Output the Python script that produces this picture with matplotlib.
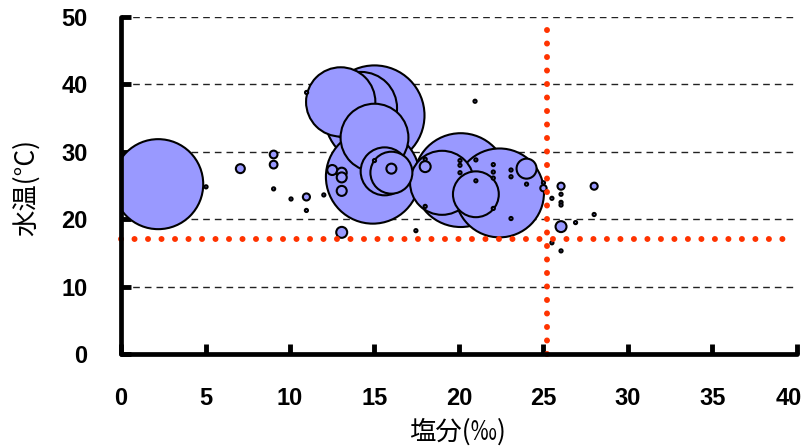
import numpy as np
import matplotlib.pyplot as plt
from matplotlib.transforms import ScaledTranslation

# 塩分・水温・バブルサイズ
salinity = [2.2, 15.0, 14.9, 20.1, 22.4, 14.2, 13.0, 15.0, 19.0, 15.6, 21.0, 16.0, 24.0,
            16.0, 12.5, 13.06, 13.06, 13.06, 13.06, 18.0, 7.06, 9.03, 9.03, 10.97,
            26.04, 28.0, 26.04, 25.0,
            5.03, 9.03, 10.06, 10.97, 10.98, 12.0, 15.0, 17.45, 18.0, 18.0, 20.06, 20.06,
            20.06, 21.0, 21.0, 20.95, 22.03, 22.03, 22.03, 22.03, 23.08, 23.08, 24.0,
            23.08, 25.0, 25.5, 26.04, 26.04, 26.04, 28.0, 26.9, 25.5, 26.04]
temperature = [25.2, 35.4, 26.3, 25.8, 23.9, 36.5, 37.4, 32.1, 25.4, 27.1, 23.7, 26.9, 27.5,
               27.5, 27.3, 26.9, 26.2, 24.2, 18.05, 27.8, 27.5, 29.6, 28.1, 23.3,
               24.9, 24.9, 18.9, 24.6,
               24.8, 24.5, 23.0, 21.3, 38.8, 23.6, 28.7, 18.3, 28.9, 21.9, 28.7, 28.0,
               26.9, 28.8, 25.7, 37.5, 28.1, 27.0, 26.1, 21.6, 27.3, 26.3, 25.2,
               20.1, 25.4, 23.1, 23.7, 22.5, 22.1, 20.7, 19.5, 16.5, 15.3]
bubble = [81, 100, 88, 88, 79, 52, 48, 46, 41, 23, 21, 17.6, 4,
          1, 1, 1, 1, 1, 1.2, 1.2, 0.8, 0.6, 0.6, 0.5,
          0.5, 0.5, 1.2, 0.4] + [0.1] * 33

# 基準線
ref_salinity = 25.2
ref_temperature = 17.1

x = np.array(salinity)
y = np.array(temperature)
sz = np.array(bubble)
order = np.argsort(-sz, kind="stable")  # 大きいバブルから描く

fig = plt.figure(figsize=(8.07, 4.47), dpi=100)
ax = fig.add_axes([0.15, 0.208, 0.8375, 0.754])

ax.set_xlim(0, 40)
ax.set_ylim(0, 50)

for gy in range(10, 51, 10):
    ax.plot([0, 40], [gy, gy], color="#222222", lw=1.0, ls=(0, (4.8, 3.6)), zorder=1)

ax.scatter(x[order], y[order], s=51.84 * sz[order], c="#9999FF",
           edgecolors="black", linewidths=1.5, zorder=3)

red = "#FF3300"
ax.plot([0, 39.3], [ref_temperature, ref_temperature], color=red, lw=4.3,
        ls=(0, (0.01, 2.25)), dash_capstyle="round", zorder=4, clip_on=False)
ax.plot([ref_salinity, ref_salinity], [0, 50], color=red, lw=4.3,
        ls=(0, (0.01, 2.25)), dash_capstyle="round", zorder=4, clip_on=False)

for side in ["top", "right"]:
    ax.spines[side].set_visible(False)
for side in ["left", "bottom"]:
    ax.spines[side].set_linewidth(3.4)
    ax.spines[side].set_capstyle("round")
    ax.spines[side].set_zorder(5)

ax.set_xticks(range(0, 41, 5))
ax.set_yticks(range(0, 51, 10))
ax.tick_params(direction="in", length=7, width=3.5)
ax.tick_params(axis="x", pad=24)
ax.tick_params(axis="y", pad=24)
for lab in ax.get_xticklabels() + ax.get_yticklabels():
    lab.set_fontfamily("Liberation Sans")
    lab.set_fontweight("bold")
    lab.set_fontsize(17)

# 右端の「40」が切れないよう少し左へ
last = ax.get_xticklabels()[-1]
last.set_transform(last.get_transform() + ScaledTranslation(-6 / 72, 0, fig.dpi_scale_trans))

fig.text(26 / 807, 1 - 187 / 447, "水温(°C)", rotation=90, ha="center", va="center",
         fontsize=19, family=["Noto Sans CJK JP", "DejaVu Sans"])
fig.text(458 / 807, 1 - 432 / 447, "塩分(‰)", ha="center", va="center",
         fontsize=19, family=["Noto Sans CJK JP", "DejaVu Sans"])

fig.savefig("out.png", dpi=100)
